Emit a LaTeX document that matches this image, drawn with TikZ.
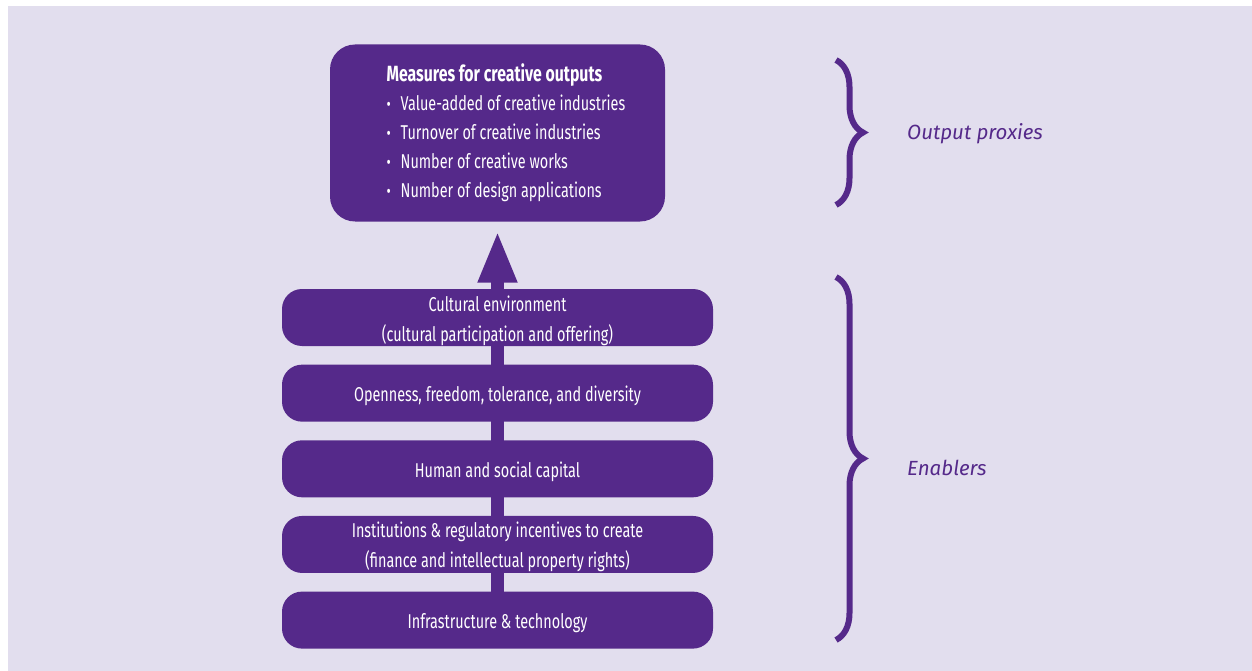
\documentclass[tikz,border=0pt]{standalone}
\usepackage{fontspec}
\setmainfont{Fira Sans}[FakeStretch=0.72]
\newfontfamily\sidefont{Fira Sans}
\usepackage{tikz}
\usetikzlibrary{arrows.meta,positioning,backgrounds,decorations.pathreplacing}
\definecolor{giPurple}{HTML}{55298A}
\definecolor{giLilac}{HTML}{E2DEEE}
% indent of the output list, then the bullet
\newcommand{\outind}{\hspace*{17pt}}
\newcommand{\outbul}{\outind\makebox[14pt][l]{\fontsize{18}{18}\selectfont\textbullet}}

\begin{document}
\begin{tikzpicture}[
  x=1pt, y=-1pt,
  node distance=18.25pt,
  every node/.style={font=\fontsize{20}{30}\selectfont, text=white},
  outbox/.style={fill=giPurple, rounded corners=25pt, minimum width=335pt, minimum height=177pt, align=left, inner sep=0pt, font=\fontsize{20}{29}\selectfont},
  enabler/.style={fill=giPurple, rounded corners=20pt, minimum width=431pt, minimum height=57pt, align=center, inner sep=0pt, text height=21.5pt, text depth=4.5pt},
  enabler2/.style={enabler, text height=51.5pt},
  side/.style={font=\sidefont\itshape\fontsize{20.5}{22}\selectfont, text=giPurple, anchor=west, inner sep=0pt},
  brace/.style={decorate, decoration={brace, amplitude=27pt}, line width=6pt, draw=giPurple},
  arr/.style={line width=13pt, draw=giPurple, -{Triangle[width=36pt, length=52pt]}}
]
\useasboundingbox (0,0) rectangle (1252,671);

% Output box
\node[outbox] (outputs) at (497.5,133) {\outind{\bfseries\fontsize{22}{29}\selectfont Measures for creative outputs}\\
\outbul Value-added of creative industries\\
\outbul Turnover of creative industries\\
\outbul Number of creative works\\
\outbul Number of design applications};

% Enabler stack
\node[enabler2] (culture) at (497.5,317.5) {Cultural environment\\(cultural participation and offering)};
\node[enabler, below=of culture] (openness) {Openness, freedom, tolerance, and diversity};
\node[enabler, below=of openness] (capital) {Human and social capital};
\node[enabler2, below=of capital] (instit) {Institutions \& regulatory incentives to create\\(finance and intellectual property rights)};
\node[enabler, below=of instit] (infra) {Infrastructure \& technology};

% Arrow behind the stack
\coordinate[below=9pt of outputs.south] (arrtip);
\begin{scope}[on background layer]
\fill[white] (0,0) rectangle (1252,671);
\fill[giLilac] (8,6) rectangle (1252,671);
\draw[arr] (infra.center) -- (arrtip);
\end{scope}

% Braces and labels
\coordinate (opTop) at (836,60);
\coordinate (opBot) at (836,205);
\coordinate (enTop) at (836,277);
\coordinate (enBot) at (836,640);
\draw[brace] (opTop) -- (opBot);
\draw[brace] (enTop) -- (enBot);
\node[side] (proxies) at (907,134) {Output proxies};
\node[side] (enablers) at (907,468) {Enablers};
\end{tikzpicture}
\end{document}
